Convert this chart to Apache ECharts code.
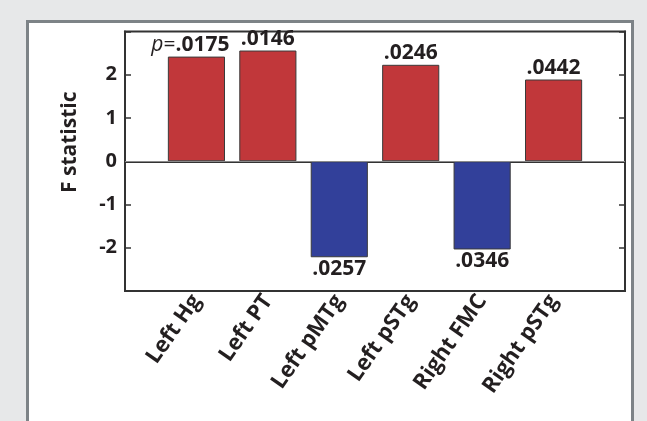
<!DOCTYPE html>
<html>
<head>
<meta charset="utf-8">
<script src="https://cdn.jsdelivr.net/npm/echarts@6/dist/echarts.min.js"></script>
<style>
html,body{margin:0;padding:0;background:#e7e8e9;}
#chart{width:647px;height:421px;}
</style>
</head>
<body>
<div id="chart"></div>
<script>
const categories = ['Left Hg', 'Left PT', 'Left pMTg', 'Left pSTg', 'Right FMC', 'Right pSTg'];
const fValues = [2.42, 2.56, -2.22, 2.23, -2.04, 1.89];
const pLabels = ['.0175', '.0146', '.0257', '.0246', '.0346', '.0442'];
const yTicks = [-2, -1, 0, 1, 2];

const FONT = '"Open Sans", "Noto Sans", sans-serif';
const TXT = '#231f20';

const paddedCats = [''].concat(categories, ['']);
const barData = [null].concat(fValues.map(function (v, i) {
  const pos = v >= 0;
  return {
    value: v,
    itemStyle: { color: pos ? '#c1373a' : '#32409a' },
    label: {
      show: true,
      position: pos ? 'top' : 'bottom',
      distance: 1,
      formatter: i === 0 ? '{it|p}{eq|=}' + pLabels[i] : pLabels[i],
      offset: i === 0 ? [-6, 0] : [0, 0]
    }
  };
}), [null]);

const chart = echarts.init(document.getElementById('chart'));
const yCommon = {
  type: 'value', min: -3, max: 3, interval: 1,
  axisLine: { show: true, lineStyle: { color: '#333', width: 2 } },
  axisTick: { show: true, inside: true, length: 6, lineStyle: { color: '#333', width: 1.5 } },
  splitLine: { show: false }
};
chart.setOption({
  backgroundColor: '#e7e8e9',
  animation: false,
  graphic: [{
    type: 'rect', z: -10, silent: true,
    shape: { x: 27.5, y: 21.5, width: 605, height: 430 },
    style: { fill: '#ffffff', stroke: '#7d8387', lineWidth: 3 }
  }],
  grid: { left: 125, right: 22, top: 31.5, bottom: 130, show: true, borderColor: '#333', borderWidth: 2, backgroundColor: 'transparent' },
  xAxis: {
    type: 'category', data: paddedCats, boundaryGap: false,
    axisLine: { show: true, lineStyle: { color: '#333', width: 2 } },
    axisTick: { show: false },
    axisLabel: {
      interval: 0, rotate: 55, margin: 6,
      fontFamily: FONT, fontWeight: 'bold', fontSize: 22, color: TXT
    }
  },
  yAxis: [
    Object.assign({}, yCommon, {
      position: 'left',
      name: 'F statistic', nameLocation: 'middle', nameGap: 44,
      nameTextStyle: { fontFamily: FONT, fontWeight: 'bold', fontSize: 21, color: TXT, padding: [0, 0, 0, 38] },
      axisLabel: {
        margin: 8, fontFamily: FONT, fontWeight: 'bold', fontSize: 20, color: TXT,
        formatter: function (v) { return yTicks.indexOf(v) >= 0 ? String(v) : ''; }
      }
    }),
    Object.assign({}, yCommon, { position: 'right', axisLabel: { show: false } })
  ],
  series: [{
    type: 'bar', data: barData, barWidth: '80%',
    itemStyle: { borderColor: '#3a3a3a', borderWidth: 1 },
    label: {
      fontFamily: FONT, fontWeight: 'bold', fontSize: 21, color: TXT,
      rich: {
        it: { fontFamily: FONT, fontStyle: 'italic', fontWeight: 'normal', fontSize: 21, color: TXT },
        eq: { fontFamily: FONT, fontWeight: 'normal', fontSize: 21, color: TXT }
      }
    },
    markLine: {
      silent: true, symbol: 'none', label: { show: false },
      lineStyle: { color: '#8a8a8a', width: 1, type: 'solid' },
      data: [{ yAxis: 0 }]
    }
  }]
});
</script>
</body>
</html>
